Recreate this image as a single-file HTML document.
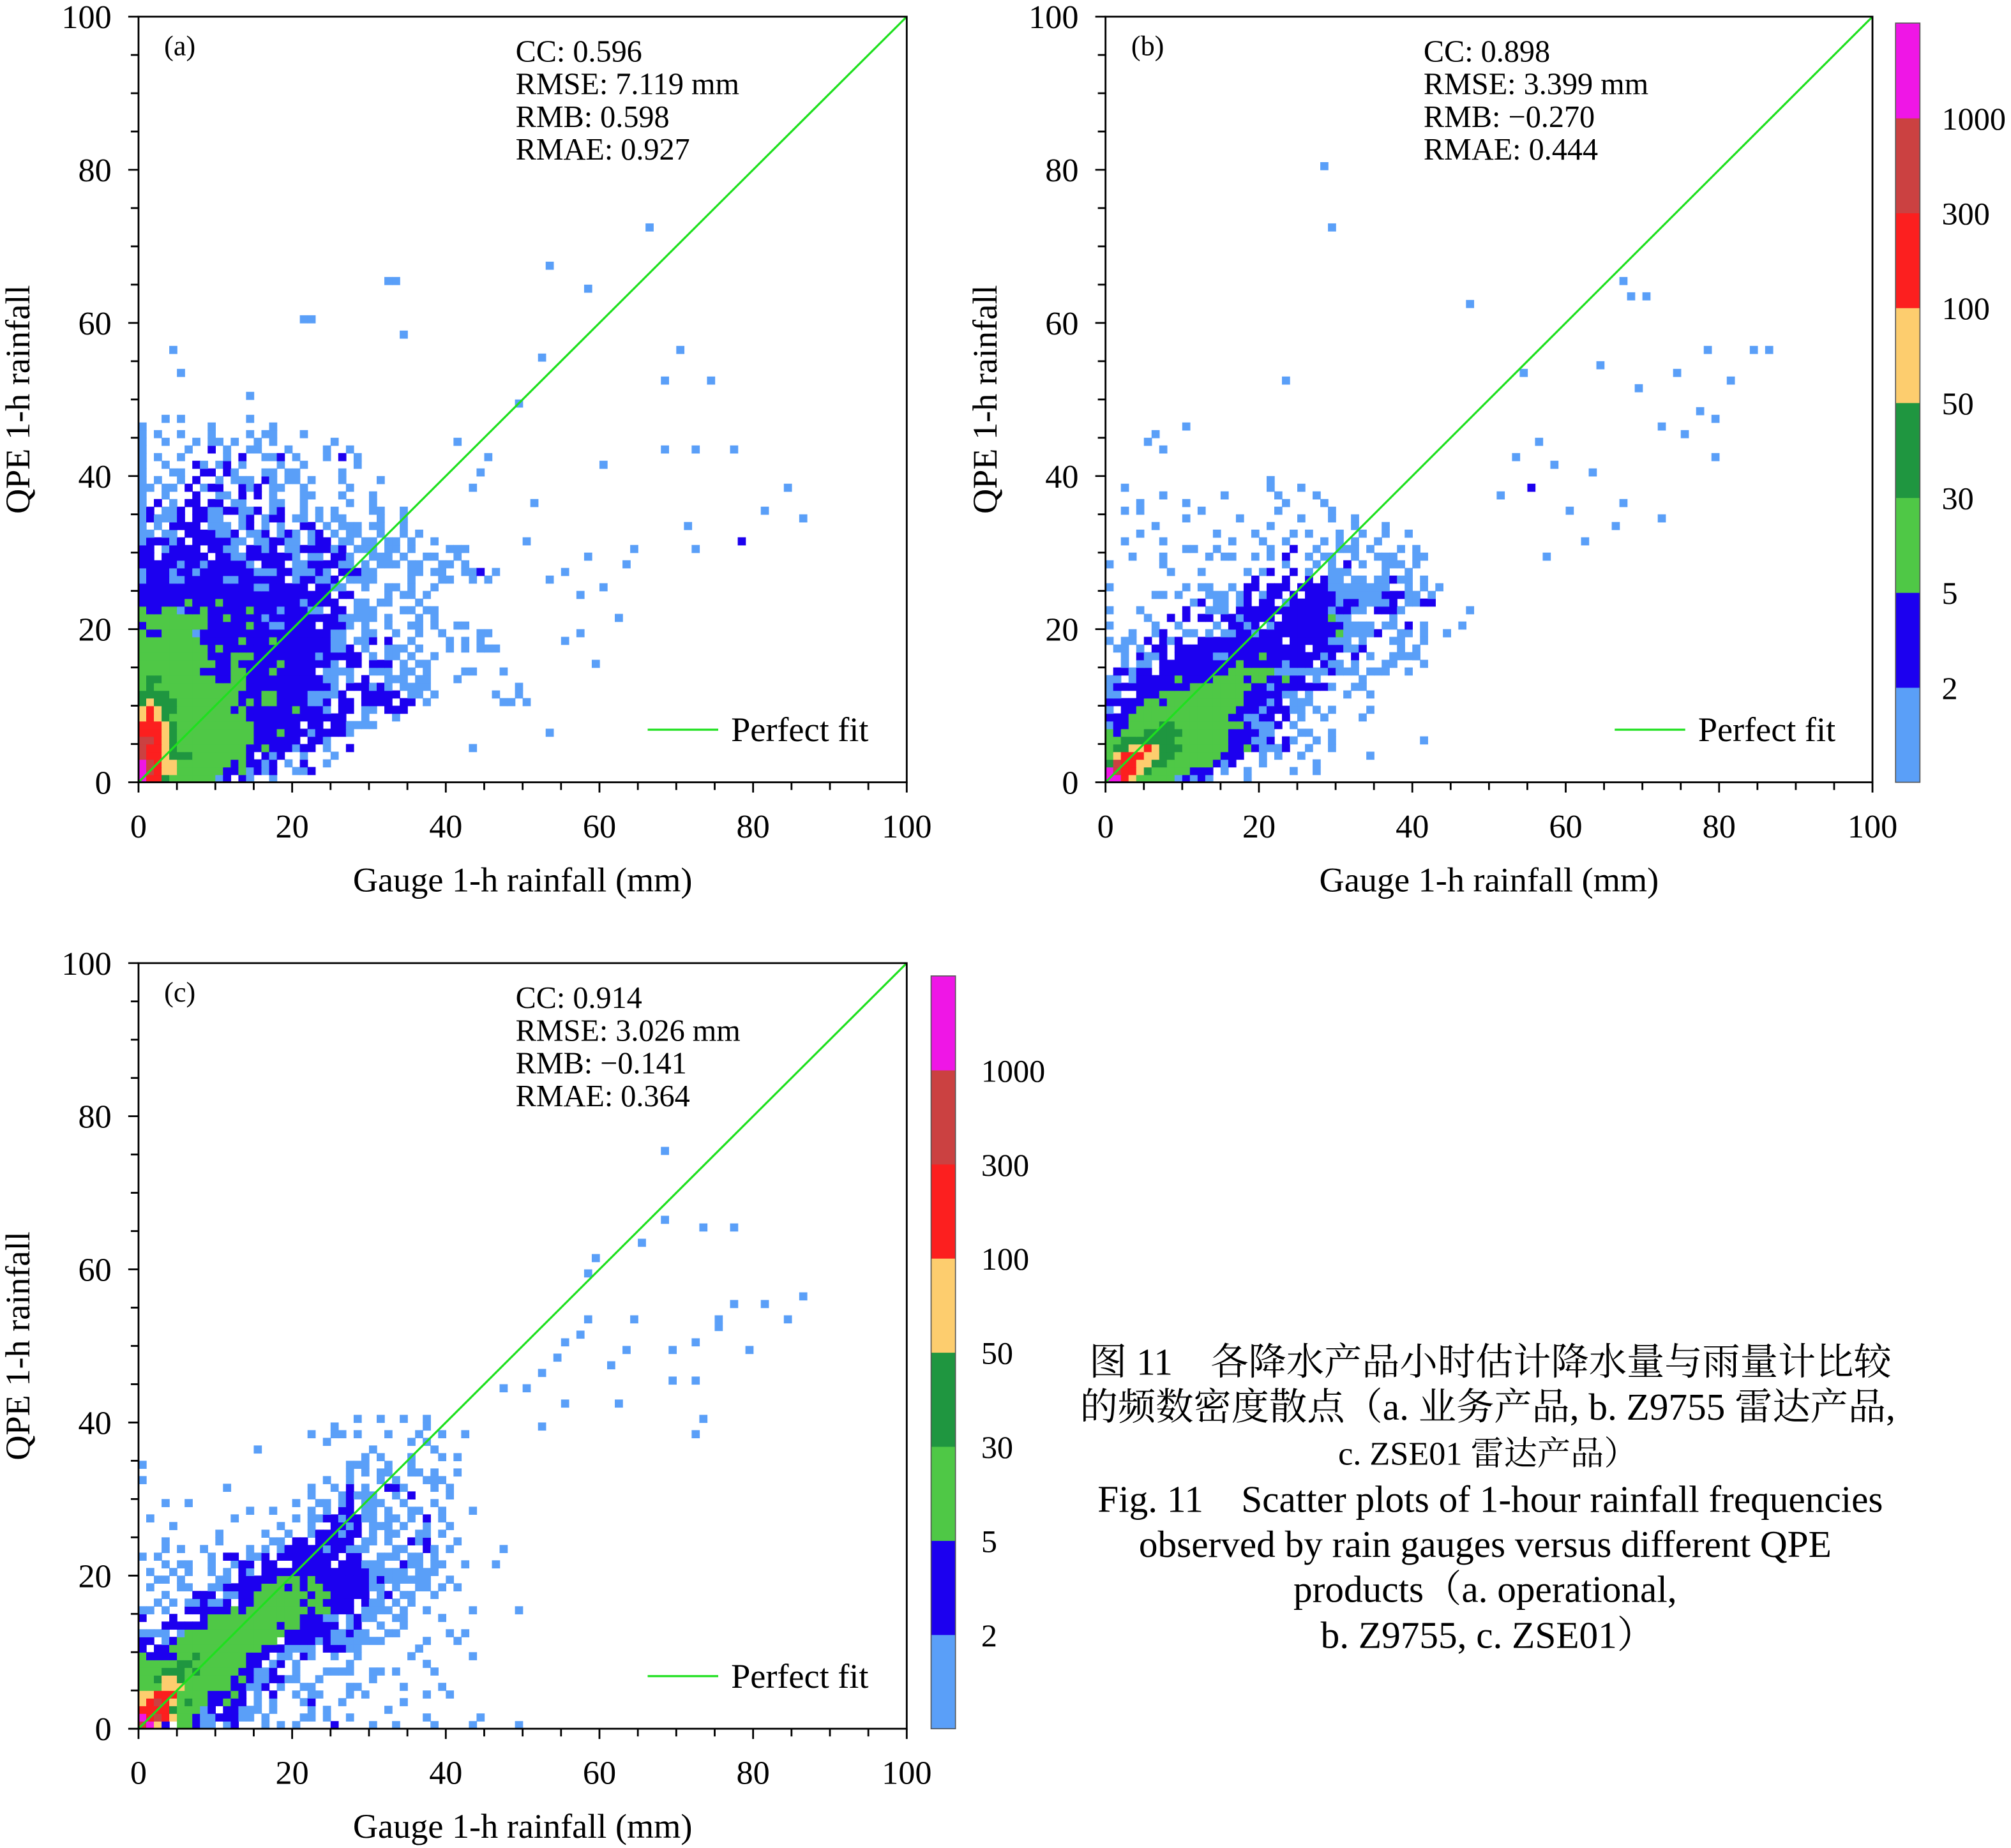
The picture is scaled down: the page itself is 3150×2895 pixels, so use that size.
<!DOCTYPE html>
<html><head><meta charset="utf-8"><style>
html,body{margin:0;padding:0;background:#fff}
svg{display:block}
text{font-family:"Liberation Serif","Noto Serif CJK SC",serif;fill:#000}
</style></head><body>
<svg id="fig" xmlns="http://www.w3.org/2000/svg" width="3150" height="2895" viewBox="0 0 1568 1441" preserveAspectRatio="none">
<g id="caption" font-size="29.5" text-anchor="middle">
<text x="1162" y="1072">图 11　各降水产品小时估计降水量与雨量计比较</text>
<text x="1160" y="1107">的频数密度散点（a. 业务产品, b. Z9755 雷达产品,</text>
<text x="1160" y="1142" font-size="26">c. ZSE01 雷达产品）</text>
<text x="1162" y="1179">Fig. 11　Scatter plots of 1-hour rainfall frequencies</text>
<text x="1158" y="1214">observed by rain gauges versus different QPE</text>
<text x="1158" y="1249">products（a. operational,</text>
<text x="1160" y="1285">b. Z9755, c. ZSE01）</text>
</g>
</svg>
<script>
const levelCodes = ['a','b','g','d','o','r','m','p'];
const levelColors = ['#5a9ff8','#1c00ef','#4fc846','#1f9640','#fdcd6e','#fc1f1f','#cb4141','#ef16e6'];
const colorbarLabels = ['2','5','30','50','100','300','1000'];
const xTicks = [0,20,40,60,80,100];
const yTicks = [0,20,40,60,80,100];

const rowsA = [
"prrdggggggab.ba..a",
"pmrooggggggbbgabab..aab",
"pmroogggggggbgbbab.a.b..a",
"mrrodddgggggggb.bab..a...a",
"mrrodgggggggggbbgbbbabb.a..b",
"mmrodggggggggggbbbbbb.bba",
"rrrodggggggggggbbbgbbbabbbba",
"rrrodggggggggggbbbbbb.bb.bbaaaa",
"orodggggggggggbbbbbbbbbbbbb..a...a",
"oroddgggggggbgbbbbbbgbbba.bb.aa.bbb",
"dodddggggggggbgbggbbbbaab.bb.bbbb.bb.a.........aa.a",
"ddddgggggggggbbbggbbbbaaaab..bbbbb.aa.a.......a..a",
"gdggggggggggggbbbbbbbbbbba.bbbaba.aaaa",
"gddgggggggbbggbbbbbbbbbbaa.a.b..aaa.aa...a",
"ggggggggbbbbggbbbgbbbbb.aaaa..aaa.aa.a....aa",
"ggggggggggbbgbbbbbgbbbbbba.bb.bbb.a.aa",
"gggggggggbbbgggbbbbbbbbabbbbb.a.aa.a..a",
"gggggggggbgbbbbbbbbbbbbbbaab.a..aaa.a...a.a.aaa",
"ggggggggbbbbbgbbbgbbbbbbbaa.aab.b..a....a.a.a",
"gbbggggabbbbbbbbbbbbbbbbbaa..aa..a..a..a....aa",
"bggggggggbbbbbgbbaabbbb.bbba.a..a..aa.a..aa",
"gggggggggbbgbbbbabbbbbbbbbaaaaa.a...a.a",
"gbbggabbgbbbbbgbbbabbbaa.bb.aaa...aa.aa",
"bbbbbbgbbbgbbbbbbbbbbabbbb..aa.aa...a",
"bbbbbbbbbbbbbbbbbbbbbbbbb.bb....a.aa.a",
"bbbbbbbbbbbbbbbaabbbbb.bbaa..a..aa.a..a",
"abbbaabbbbbaabbbbbb.abbaab.aaaa....a...aa..a.a",
"abbbabbabbbbbbbaaabbaaaba.bbbaa....aa.aa..aab",
"bbbbbabbabbbbba.bbb.aabbbbaa.a.aaa.aa..aa.a",
"bb.bbbbbb.bbaabbbbbba.aa.bba..aaa.a..aa..a",
"bb.abbbb.bbaa.bbab.aabbbbab.aaa.aa.a....aaa",
"abbbab.bbbbbaa.aabbaa.abb.aa.aa.aa.a..a",
"aa.aa.bbbbaab.aab.aba.ab.a.aa..a..a.a",
"a.a.bbbb.aaa.ab.a.a..bb.a.aaa.aa..a",
"abaaab.bbaa..ab.abb.aa.a.aa....a..a",
"ab.aab.bbaabbaab.ab..a.a.a....aa..a",
"a.b.a.bb.bb.aa...aa..a.....a..a",
"a..a...b..aa.b.b.a...aa...a...a",
"aa.aa.b.abb..bab.aa..a.....a",
"a.a..a.b..a.aaa.ba.aa.a...a....a",
"a...aa..bb.ba...aa.aa.....a",
"a..a...ba.ab.a....a..a......a",
"a.a..a.....a.b..aab.a...a.b.a",
"a.....a..b.a..aa...a....a..a",
"a..a...a.aa.a..a.a.......a",
"a.a..a...a....a.aa...a",
"a........a.......a",
"...a.a........a"
];
const outGaugeA = [66,53,58,32,33,21,22,34,52,70,74,68,4,5,14,49,77,72,68,84,81,86,78,72,53,55,64,62,55,59,53,43,49,47,63,71,57,60,44,41,51,45,58,50,43,46,60,57];
const outQpeA   = [72,67,64,65,65,60,60,58,55,56,52,52,56,53,50,49,43,43,43,38,35,34,31,30,26,27,30,21,18,15,6,4,12,14,28,33,24,25,40,44,36,42,29,31,38,27,41,19];
const outLvlA   = "aaaaaaaaaaaaaaaaaaaaaabaaaaaaaaaaaaaaaaaaaaaaaaa";

const rowsB = [
"pprogggggababa....a",
"pmrrodgggggbbb.a..a.....a..a",
"dmrrooddggggggbab...a......a",
"gorrrooddggggggbbb..a.a..a........a",
"gddoorodddggggggbbgbaaab..a..a",
"ggdddddddgggggggbbbaab.ba..a.a...........a",
"gbgggdddddggggggbbbbaa...aa..a",
"abbggggddgggggggggbaaab.a",
"bbbgggggggggggggbbaabb.b.a..a....a",
"a.bbgggggggggggggbbbabbbaa.a.a....a",
"bbbbbggbggggggggggbbbab.aaa",
"aa..bbbgggggggggggbbbbbaa.a....a..a",
"abbbbbbbbbbggggggggbbabbbbbbba..aa",
"aa.abbbbbgbbbbggggbggbbgbb.a.....a",
".bbabb.bbbbbbbbbggggggaaaaaaabaaa.aaa..a",
"..a.aa.bbbbbbbbbbgbbbbbabbb.baa.a...aa...a",
"..a.baab.bbbbbaabbbbgbbbbbbbab..b.a..aaaa",
".aa.a.bb.bbbbbbbbbbbbbbbbb.bbbbaab....a.a",
"a.aa.b.bab..bbbbbbbbbbb.bbbbbaaa.a...aa",
"...a..ab..aa.a.aabbabbbbbbbbbbgaaaab..aa.a..a",
"a.....a..a....a.bbab.abbbbbbbbbaaaa.aa.b.a....a",
".....a..b.b.bb.bbabbbb.bbbbbbgaa.....a",
"a...a.....b..aaa.bbbbbbbbbbbbabbaa.bbba",
"...........ab.aa.ab.bb.abbbbbbabbaaaab.aabb",
"......aa.a...aaa.ab.abb.b.bbbbaaaaaabbbaa.a",
"a.........a.aa..a.bb.bbb.bbbbaaaaaaaa..a.a.a",
"...................b...b..b.baa.aa.aabaa.a",
"........a...a.....a.ab..b.a..aaa....a..a",
"a......a...............a...a.a.b.a..aaa.a",
"...a...a.....a.aa..a.a.b..a.aa..a..aaa..aa",
"..........aa..a......a..b..a..aaa.a...a.a",
"..a....a........a...a..a....a.a.a..a",
"....a.........a....a....a.a...a..a..a..a",
"......a..............a..........a...a",
"..........a......a.......a...a..a",
"..a.a.......a.........a......a",
"....a.....a............a....a",
".......a.......a......a....a",
"..a..................a...a",
".....................a"
];
const outGaugeB = [28,29,47,23,68,70,67,64,69,74,78,81,84,86,79,77,79,75,72,63,58,56,67,66,72,54,53,51,44,41,47,40,5,6,7,10,62,60,55,57];
const outQpeB   = [80,72,62,52,63,63,65,54,51,53,56,52,56,56,47,48,42,45,46,40,41,44,36,33,34,53,42,37,19,18,22,16,44,45,43,46,31,35,38,29];
const outLvlB   = "aaaaaaaaaaaaaaaaaaaaaaaaaaaaaaaaaaaaaaba";

const rowsC = [
"mpob.ggbaa.ab...a.a.a....b....a..a....a....a.....a",
"prmroggbaabbbaa.a....aa.a..a.........a......a",
"rrrrdgggab.bbaaa.a....a.a.......a",
"ormrogdggbbgbb.a.a...ab...a.......a",
"oorrrggggbbbgb.a.b..a.aa...a.a.......a..a",
"gggoooggggggbbaab.a..aa....aa.....a....a",
"ggdoodggggggbgbaabbaa..a......a",
"gggdddgdgggggbbaab..a...aaaa..aa.a....a",
"gggggddgggggggbb.ab.a......a.........a",
"gbbbbggdggggggbbb.aa.ba..a..a......a.......a",
"b.bbggggggggggggbbbaaaa.bbbaa.......a",
"bb.abggggggggggggg.bbbbabaaaaaaa.....a...a",
"aaaa.agggggggggggggbbbbbbaabaa..aa......a.a",
"...bbbbbbgggggggggbggbbbbb.ab..a..a",
"b...b...bggggggggggggbbbaa.abaa..aa....a",
"aa.a..bbbbbbgbggggggggbggbbb.aaaa.a..a.....a.....a",
"..a.a.aabaab.bbggggggbggbbbb.baa.a.a",
"...a...bbb.aabbgggggggbggbbbbb.ab.aa..a",
".a...aa..aabbbbbgggbgbggbbbbbbaa.a..aa.a.a",
"..aa.a....aa.bbbbbgggbgbbbbbbbabaaaaaa..a",
".a..a.a..a.a.ba.bbbbbbbbbbbbbbaaaaa.aaa",
"...a.aa..a..abb.bb..bbbbb.bbbaaa..baa.aa..a...a",
"a.a......a.bb.aab.bbbbbbbb.bb..aaa.aa.a",
"...a.a..a.....a.a.abbbbbabbaaa...aa..ba.a......a",
"...a......a......aa.bb.bbbbb.aa.a..bab...a",
"..........a.....a..a..abbbabb.a.aa..aa.a",
"....a.............a...a..bbab.aaa.a..a..a",
".a..........a.......a.aabbabbaa.aa.a.b.a",
"..............a..a....a.a.bb.aa.a..aa..a...a",
"...a..a.............a..aa.ab.aaa..a...a",
"......................a...abaaa..a.b....a",
"...........a..........a..a.b.a..bba...a.a",
"a.......................a..a...a.a...aaa",
"...........................a.a.aa..aa.a..a",
"a..........................aaa..a..a",
".............................a.a...a...a.a",
"...............a..............a.......a",
"........................a..........a.a",
"......................a..aa.a...a...a..a..a",
".........................a...........a",
"............................a..a..a..a"
];
const outGaugeC = [68,68,65,59,58,73,77,86,81,77,75,75,84,79,72,69,64,63,69,72,73,72,62,58,57,55,54,52,50,55,47,61,52];
const outQpeC   = [75,66,63,61,59,65,65,56,55,55,53,52,53,49,50,49,53,49,45,45,40,38,42,53,51,50,48,46,44,42,44,47,39];
const outLvlC   = "aaaaaaaaaaaaaaaaaaaaaaaaaaaaaaaaa";

const stats = [
 ['CC: 0.596','RMSE: 7.119 mm','RMB: 0.598','RMAE: 0.927'],
 ['CC: 0.898','RMSE: 3.399 mm','RMB: −0.270','RMAE: 0.444'],
 ['CC: 0.914','RMSE: 3.026 mm','RMB: −0.141','RMAE: 0.364']
];

const NS = 'http://www.w3.org/2000/svg';
const svg = document.getElementById('fig');
function mk(tag, attrs, parent){const e=document.createElementNS(NS,tag);for(const k in attrs)e.setAttribute(k,attrs[k]);(parent||svg).appendChild(e);return e;}

const panels = [
 {id:'a', x0:108, x1:707, yb:610, yt:13, rows:rowsA, og:outGaugeA, oq:outQpeA, ol:outLvlA, st:stats[0], sx:402},
 {id:'b', x0:862, x1:1460, yb:610, yt:13, rows:rowsB, og:outGaugeB, oq:outQpeB, ol:outLvlB, st:stats[1], sx:1110},
 {id:'c', x0:108, x1:707, yb:1348, yt:751, rows:rowsC, og:outGaugeC, oq:outQpeC, ol:outLvlC, st:stats[2], sx:402}
];

panels.forEach(P=>{
  const g = mk('g',{});
  
  
  const sx = v => P.x0 + v*(P.x1-P.x0)/100;
  const sy = v => P.yb - v*(P.yb-P.yt)/100;
  const cw = (P.x1-P.x0)/100, ch=(P.yb-P.yt)/100;
  const cells = mk('g',{},g);
  
  
  function cell(gx,qy,code){
    const li = levelCodes.indexOf(code); if(li<0) return;
    const r = mk('rect',{x:sx(gx),y:sy(qy+1),width:cw+0.35,height:ch+0.35,fill:levelColors[li]},cells);
    
    
  }
  P.rows.forEach((row,qy)=>{ for(let gx=0;gx<row.length;gx++) cell(gx,qy,row[gx]); });
  P.og.forEach((gx,i)=>cell(gx,P.oq[i],P.ol[i]));
  const pf = mk('line',{x1:sx(0),y1:sy(0),x2:sx(100),y2:sy(100),stroke:'#1ee01e','stroke-width':1.6},g);
  
  
  const fr = mk('rect',{x:P.x0,y:P.yt,width:P.x1-P.x0,height:P.yb-P.yt,fill:'none',stroke:'#000','stroke-width':1.4},g);
  
  
  for(let v=0;v<=100;v+=5){
    const major = v%20===0;
    const L = major?8:6;
    const tx = mk('line',{x1:sx(v),y1:P.yb,x2:sx(v),y2:P.yb+L,stroke:'#000','stroke-width':1.4},g);
    
    
    const ty = mk('line',{x1:P.x0-L,y1:sy(v),x2:P.x0,y2:sy(v),stroke:'#000','stroke-width':1.4},g);
    
    
  }
  xTicks.forEach(v=>{
    const t = mk('text',{x:sx(v),y:P.yb+43,'font-size':26,'text-anchor':'middle'},g);
    t.textContent=v;
    
    
  });
  yTicks.forEach(v=>{
    const t = mk('text',{x:P.x0-21,y:sy(v)+9,'font-size':26,'text-anchor':'end'},g);
    t.textContent=v;
    
    
  });
  const xt = mk('text',{x:(P.x0+P.x1)/2,y:P.yb+85,'font-size':27,'text-anchor':'middle'},g);
  xt.textContent='Gauge 1-h rainfall (mm)';
  
  
  const yx = P.x0-85, yy=(P.yb+P.yt)/2;
  const yt = mk('text',{x:yx,y:yy,'font-size':27,'text-anchor':'middle',transform:`rotate(-90 ${yx} ${yy})`},g);
  yt.textContent='QPE 1-h rainfall';
  
  
  const pl = mk('text',{x:P.x0+20,y:P.yt+30,'font-size':22},g);
  pl.textContent='('+P.id+')';
  
  
  P.st.forEach((s,i)=>{
    const t = mk('text',{x:P.sx,y:P.yt+35+i*25.5,'font-size':24},g);
    t.textContent=s;
    
    
  });
  const lgY = P.yb-41;
  const ll = mk('line',{x1:P.x0+397,y1:lgY,x2:P.x0+452,y2:lgY,stroke:'#1ee01e','stroke-width':1.6},g);
  
  
  const lt = mk('text',{x:P.x0+462,y:lgY+9,'font-size':27},g);
  lt.textContent='Perfect fit';
  
  
});

function colorbar(x,top,bottom,lx,name){
  const g = mk('g',{});
  
  
  const seg=(bottom-top)/levelColors.length;
  levelColors.forEach((c,i)=>{
    const r = mk('rect',{x:x,y:bottom-(i+1)*seg,width:19,height:seg+0.3,fill:c},g);
    
    
  });
  const fr = mk('rect',{x:x,y:top,width:19,height:bottom-top,fill:'none',stroke:'#555','stroke-width':0.8},g);
  
  
  colorbarLabels.forEach((l,i)=>{
    const t = mk('text',{x:lx,y:bottom-(i+1)*seg+9,'font-size':25},g);
    t.textContent=l;
    
    
  });
}
colorbar(1478,18,610,1514,'colorbar-b');
colorbar(726,761,1348,765,'colorbar-c');
</script>
</body></html>
